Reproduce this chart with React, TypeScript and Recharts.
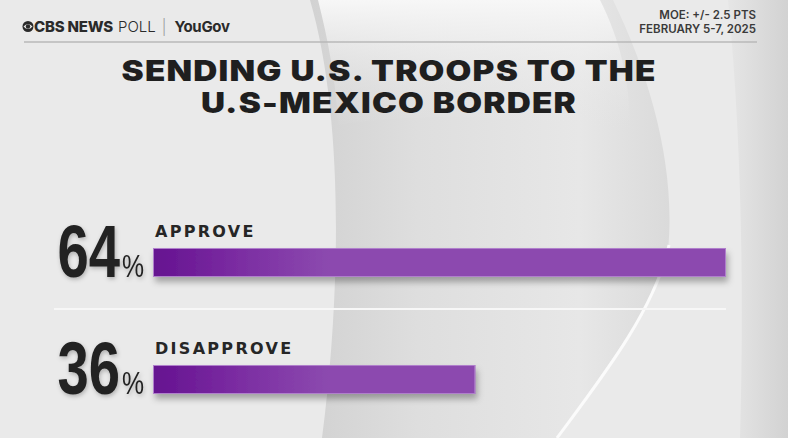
import React from 'react';
import { BarChart, Bar, XAxis, YAxis, LabelList } from 'recharts';

const categories = ['APPROVE', 'DISAPPROVE'];
const values = [64, 36];
const titleLines = ['SENDING U.S. TROOPS TO THE', 'U.S-MEXICO BORDER'];
const moeText = 'MOE: +/- 2.5 PTS';
const dateText = 'FEBRUARY 5-7, 2025';

const data = categories.map((c, i) => ({ label: c, value: values[i] }));

const W = 788;
const H = 438;

const BarShape = (props: any) => {
  const { x, y, width, height } = props;
  return (
    <g>
      <rect x={x} y={y} width={width} height={height} fill="url(#barGrad)" filter="url(#barShadow)" />
      <rect x={x + 0.5} y={y + 0.5} width={width - 1} height={height - 1} fill="none" stroke="#b07fcc" strokeWidth={1} />
    </g>
  );
};

const ValueLabel = (props: any) => {
  const { x, y, height, value } = props;
  const base = y + height;
  return (
    <g filter="url(#textShadow)">
      <text
        transform={`translate(${x - 33},${base}) scale(0.76,1)`}
        x={0}
        y={0}
        textAnchor="end"
        fontFamily="'Liberation Sans', Arial, sans-serif"
        fontWeight={700}
        fontSize={74}
        fill="#222222"
      >
        {value}
      </text>
      <text
        transform={`translate(${x - 31},${base}) scale(0.8,1)`}
        x={0}
        y={0}
        textAnchor="start"
        fontFamily="'Liberation Sans', Arial, sans-serif"
        fontWeight={400}
        fontSize={31}
        fill="#222222"
      >
        %
      </text>
    </g>
  );
};

const NameLabel = (props: any) => {
  const { x, y, value } = props;
  return (
    <text
      x={x + 2}
      y={y - 11}
      textAnchor="start"
      fontFamily="'DejaVu Sans', sans-serif"
      fontWeight={700}
      fontSize={16}
      letterSpacing={2.3}
      fill="#262626"
    >
      {value}
    </text>
  );
};

export default function App() {
  return (
    <div style={{ position: 'absolute', left: 0, top: 0, width: W, height: H, overflow: 'hidden', background: '#e9e9e9' }}>
      <svg width={W} height={H} style={{ position: 'absolute', left: 0, top: 0 }}>
        <defs>
          <linearGradient id="crescent" x1="0" y1="0" x2="1" y2="0">
            <stop offset="0" stopColor="#d2d2d2" />
            <stop offset="0.3" stopColor="#dedede" />
            <stop offset="0.75" stopColor="#e7e7e7" />
            <stop offset="1" stopColor="#dadada" />
          </linearGradient>
          <linearGradient id="topWhite" x1="0" y1="0" x2="0" y2="1">
            <stop offset="0" stopColor="#f7f7f7" />
            <stop offset="1" stopColor="#e6e6e6" stopOpacity={0} />
          </linearGradient>
          <linearGradient id="rightPanel" x1="0" y1="0" x2="1" y2="0">
            <stop offset="0" stopColor="#e6e6e6" />
            <stop offset="0.5" stopColor="#dcdcdc" />
            <stop offset="1" stopColor="#d2d2d2" />
          </linearGradient>
        </defs>
        <rect x={0} y={0} width={W} height={H} fill="#eaeaea" />
        <path d="M 310 0 C 345 120, 340 300, 322 438 L 557 438 C 610 360, 660 300, 668 250 C 676 170, 652 80, 613 0 Z" fill="url(#crescent)" />
        <path d="M 318 0 L 600 0 C 620 40, 630 80, 630 130 C 540 120, 430 110, 338 125 C 336 80, 328 40, 318 0 Z" fill="url(#topWhite)" />
        <path d="M 669 245 C 655 310, 600 380, 557 438" stroke="#fbfbfb" strokeWidth={3} fill="none" />
        <path d="M 728 0 C 742 140, 744 300, 740 438 L 788 438 L 788 0 Z" fill="url(#rightPanel)" />
        <line x1={24} y1={42} x2={757} y2={42} stroke="#b8b8b8" strokeWidth={1.5} />
        <line x1={54} y1={309} x2={726} y2={309} stroke="#f7f7f7" strokeWidth={2} />
        {/* CBS eye logo */}
        <circle cx={28} cy={26.5} r={5.5} fill="#2a2a2a" />
        <path d="M 23.5 26.5 Q 28 21.5 32.5 26.5 Q 28 31.5 23.5 26.5 Z" fill="#eaeaea" />
        <circle cx={28} cy={26.5} r={2.2} fill="#2a2a2a" />
        <text x={34} y={32} fontFamily="Inter, sans-serif" fontSize={15} fill="#2a2a2a">
          <tspan fontWeight={800} letterSpacing={-0.2}>CBS NEWS</tspan>
          <tspan fontWeight={300} dx={5}>POLL</tspan>
          <tspan fontWeight={300} dx={6} fill="#9a9a9a">|</tspan>
          <tspan fontWeight={700} dx={8} letterSpacing={-0.3}>YouGov</tspan>
        </text>
        <text x={756} y={19} textAnchor="end" fontFamily="Inter, sans-serif" fontWeight={600} fontSize={11.5} fill="#3a3a3a">
          {moeText}
        </text>
        <text x={756} y={33} textAnchor="end" fontFamily="Inter, sans-serif" fontWeight={600} fontSize={11.5} fill="#3a3a3a">
          {dateText}
        </text>
        {titleLines.map((t, i) => (
          <text
            key={t}
            transform={`translate(389,${81 + i * 32}) scale(1.19,1)`}
            x={0}
            y={0}
            textAnchor="middle"
            fontFamily="Inter, sans-serif"
            fontWeight={900}
            fontSize={28}
            letterSpacing={1}
            fill="#1f1f1f"
          >
            {t}
          </text>
        ))}
      </svg>
      <div style={{ position: 'absolute', left: 0, top: 0 }}>
        <BarChart width={W} height={H} data={data} layout="vertical" margin={{ top: 204, right: 62, bottom: 0, left: 153 }}>
          <defs>
            <linearGradient id="barGrad" gradientUnits="userSpaceOnUse" x1="153" y1="0" x2="330" y2="0">
              <stop offset="0" stopColor="#651290" />
              <stop offset="0.45" stopColor="#7a2ba1" />
              <stop offset="1" stopColor="#8c4aaf" />
            </linearGradient>
            <filter id="barShadow" x="-5%" y="-30%" width="110%" height="180%">
              <feDropShadow dx={2} dy={5} stdDeviation={3} floodColor="#000" floodOpacity={0.3} />
            </filter>
            <filter id="textShadow" x="-20%" y="-20%" width="140%" height="140%">
              <feDropShadow dx={1} dy={2} stdDeviation={2} floodColor="#000" floodOpacity={0.25} />
            </filter>
          </defs>
          <XAxis type="number" domain={[0, 64]} hide height={0} />
          <YAxis type="category" dataKey="label" hide width={0} />
          <Bar dataKey="value" barSize={29} isAnimationActive={false} shape={<BarShape />}>
            <LabelList dataKey="value" content={<ValueLabel />} />
            <LabelList dataKey="label" content={<NameLabel />} />
          </Bar>
        </BarChart>
      </div>
    </div>
  );
}
